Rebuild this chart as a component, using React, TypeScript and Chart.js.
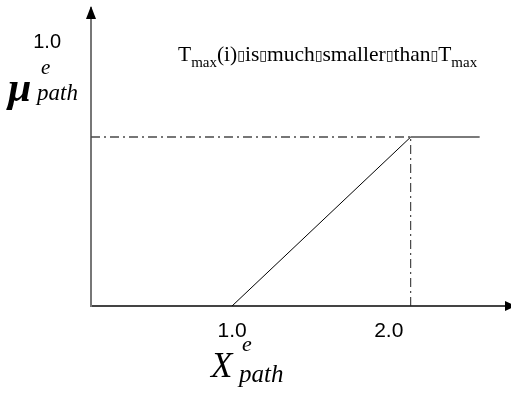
import React, { useEffect, useRef } from "react";
import { Chart, registerables } from "chart.js";

Chart.register(...registerables);

// ---- data ----
const X_TICKS = [1.0, 2.0];
const Y_TICKS = [1.0];
const X_RANGE = [0.1, 2.78];
const Y_RANGE = [0, 1.129];
const RAMP_X = [1.0, 2.14];
const RAMP_Y = [0, 0.64];
const PLATEAU_X = [2.14, 2.58];
const PLATEAU_Y = [0.64, 0.64];
const GUIDE_H_X = [0.1, 2.14];
const GUIDE_H_Y = [0.64, 0.64];
const GUIDE_V_X = [2.14, 2.14];
const GUIDE_V_Y = [0, 0.64];
const ANNOTATION = ["T", "max", "(i)", "is", "much", "smaller", "than", "T", "max"];
const BOX = "\u25AF";

const pts = (xs: number[], ys: number[]) => xs.map((x, i) => ({ x, y: ys[i] }));

const overlay = {
  id: "overlay",
  afterDraw(chart: any) {
    const ctx = chart.ctx;
    const a = chart.chartArea;
    ctx.save();
    // arrows
    ctx.fillStyle = "#000";
    ctx.beginPath();
    ctx.moveTo(a.left, a.top - 2);
    ctx.lineTo(a.left - 5, a.top + 11);
    ctx.lineTo(a.left + 5, a.top + 11);
    ctx.closePath();
    ctx.fill();
    ctx.beginPath();
    ctx.moveTo(a.right + 5, a.bottom);
    ctx.lineTo(a.right - 6, a.bottom - 5);
    ctx.lineTo(a.right - 6, a.bottom + 5);
    ctx.closePath();
    ctx.fill();

    // annotation text
    ctx.fillStyle = "#000";
    ctx.textBaseline = "alphabetic";
    ctx.textAlign = "left";
    let x = 178;
    const base = 61;
    const big = "21.5px 'Liberation Serif'";
    const small = "15px 'Liberation Serif'";
    const boxFont = "14px 'DejaVu Sans'";
    const run = (t: string, font: string, dy: number) => {
      ctx.font = font;
      ctx.fillText(t, x, base + dy);
      x += ctx.measureText(t).width;
    };
    run(ANNOTATION[0], big, 0);
    run(ANNOTATION[1], small, 6);
    run(ANNOTATION[2], big, 0);
    run(BOX, boxFont, -1);
    run(ANNOTATION[3], big, 0);
    run(BOX, boxFont, -1);
    run(ANNOTATION[4], big, 0);
    run(BOX, boxFont, -1);
    run(ANNOTATION[5], big, 0);
    run(BOX, boxFont, -1);
    run(ANNOTATION[6], big, 0);
    run(BOX, boxFont, -1);
    run(ANNOTATION[7], big, 0);
    run(ANNOTATION[8], small, 6);

    // y-axis title: mu^e_path
    ctx.font = "bold italic 42px 'Liberation Serif'";
    ctx.fillText("\u03BC", 8, 101);
    ctx.font = "italic 21px 'Liberation Serif'";
    ctx.fillText("e", 41, 74);
    ctx.font = "italic 23px 'Liberation Serif'";
    ctx.fillText("path", 37, 100);

    // x-axis title: X^e_path
    ctx.font = "italic 35px 'Liberation Serif'";
    ctx.fillText("X", 211, 377);
    ctx.font = "italic 22px 'Liberation Serif'";
    ctx.fillText("e", 242, 351);
    ctx.font = "italic 25px 'Liberation Serif'";
    ctx.fillText("path", 239, 382);
    ctx.restore();
  },
};

export default function App() {
  const ref = useRef<HTMLCanvasElement>(null);
  useEffect(() => {
    if (!ref.current) return;
    const zeroPad = (s: any) => {
      s.paddingTop = 0;
      s.paddingBottom = 0;
      s.paddingLeft = 0;
      s.paddingRight = 0;
    };
    const chart = new Chart(ref.current, {
      type: "scatter",
      data: {
        datasets: [
          {
            data: pts(GUIDE_H_X, GUIDE_H_Y),
            showLine: true,
            borderColor: "#4a4a4a",
            borderWidth: 1.5,
            borderDash: [9, 4, 2, 4],
            pointRadius: 0,
          },
          {
            data: pts(GUIDE_V_X, GUIDE_V_Y),
            showLine: true,
            borderColor: "#222",
            borderWidth: 1,
            borderDash: [9, 4, 2, 4],
            pointRadius: 0,
          },
          {
            data: pts(RAMP_X, RAMP_Y),
            showLine: true,
            borderColor: "#000",
            borderWidth: 1,
            pointRadius: 0,
          },
          {
            data: pts(PLATEAU_X, PLATEAU_Y),
            showLine: true,
            borderColor: "#7a7a7a",
            borderWidth: 2,
            pointRadius: 0,
          },
        ],
      },
      options: {
        animation: false,
        responsive: false,
        devicePixelRatio: 1,
        layout: { padding: { top: 8, left: 0, right: 0, bottom: 0 } },
        plugins: { legend: { display: false }, tooltip: { enabled: false }, title: { display: false } },
        scales: {
          x: {
            type: "linear",
            min: X_RANGE[0],
            max: X_RANGE[1],
            grid: { display: false },
            border: { display: true, color: "#444", width: 2 },
            ticks: {
              color: "#000",
              padding: 5,
              font: { family: "'Liberation Sans'", size: 21 },
              callback: (v: any) => Number(v).toFixed(1),
            },
            afterBuildTicks: (s: any) => {
              s.ticks = X_TICKS.map((value) => ({ value }));
            },
            afterFit: (s: any) => {
              s.height = 88;
              zeroPad(s);
            },
          },
          y: {
            type: "linear",
            min: Y_RANGE[0],
            max: Y_RANGE[1],
            grid: { display: false },
            border: { display: true, color: "#777", width: 2 },
            ticks: {
              color: "#000",
              padding: 22,
              font: { family: "'Liberation Sans'", size: 20 },
              callback: (v: any) => Number(v).toFixed(1),
            },
            afterBuildTicks: (s: any) => {
              s.ticks = Y_TICKS.map((value) => ({ value }));
            },
            afterFit: (s: any) => {
              s.width = 91;
              zeroPad(s);
            },
          },
        },
      },
      plugins: [overlay],
    });
    return () => chart.destroy();
  }, []);
  return (
    <div style={{ position: "fixed", left: 0, top: 0, width: 511, height: 394, background: "#fff" }}>
      <canvas ref={ref} width={511} height={394} />
    </div>
  );
}
